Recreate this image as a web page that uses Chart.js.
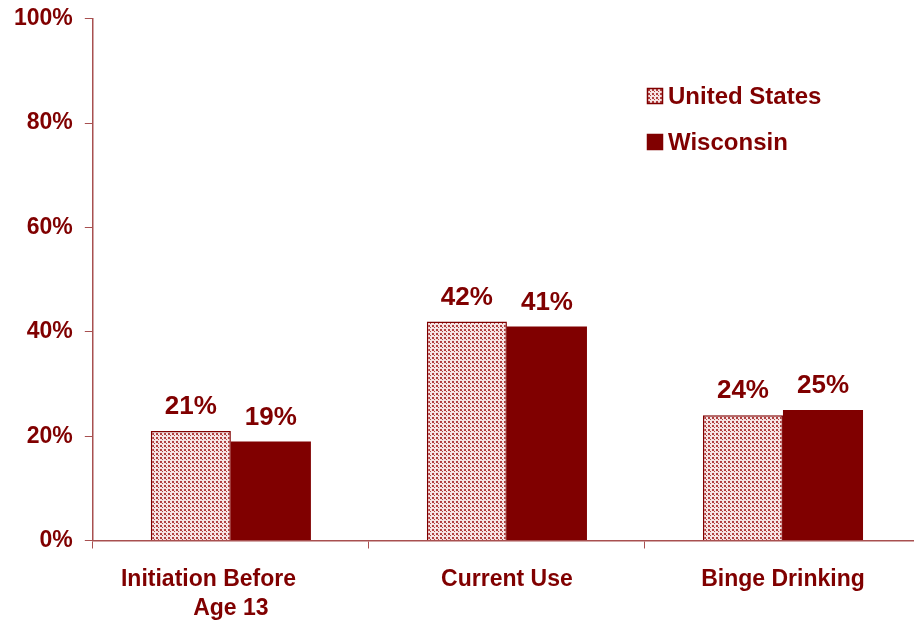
<!DOCTYPE html>
<html>
<head>
<meta charset="utf-8">
<script src="https://cdn.jsdelivr.net/npm/chart.js@4.4.1/dist/chart.umd.min.js"></script>
<style>
  html, body { margin: 0; padding: 0; background: #fff; overflow: hidden; }
  #wrap { position: relative; width: 921px; height: 649px; margin-top: -7px; }
</style>
</head>
<body>
<div id="wrap"><canvas id="chart"></canvas></div>
<script>
// ---- DATA ----
const categories = [['Initiation Before       ', 'Age 13'], 'Current Use', 'Binge Drinking'];
const seriesNames = ['United States', 'Wisconsin'];
const usValues = [21, 42, 24];
const wiValues = [19, 41, 25];
const yTicks = [0, 20, 40, 60, 80, 100];

const MAROON = '#800000';
const AXIS = '#a85050';
const FONT = "Arial, 'Liberation Sans', sans-serif";

// dotted fill used for the United States bars
function makeDots() {
    const c = document.createElement('canvas');
    c.width = 4; c.height = 4;
    const g = c.getContext('2d');
    g.fillStyle = '#f6e4e4';
    g.fillRect(0, 0, 4, 4);
    g.fillStyle = '#b04040';
    g.fillRect(0, 0, 2, 2);
    g.fillRect(2, 2, 1, 1);
    return g.createPattern(c, 'repeat');
}
const dots = makeDots();

// value labels above each bar
const valueLabels = {
    id: 'valueLabels',
    afterDatasetsDraw(chart) {
        const ctx = chart.ctx;
        ctx.save();
        ctx.font = 'bold 26px ' + FONT;
        ctx.fillStyle = MAROON;
        ctx.textAlign = 'center';
        ctx.textBaseline = 'bottom';
        chart.data.datasets.forEach((ds, i) => {
            chart.getDatasetMeta(i).data.forEach((bar, j) => {
                ctx.fillText(ds.data[j] + '%', bar.x, bar.y - 11);
            });
        });
        ctx.restore();
    }
};

// legend drawn inside the plot, upper right
const innerLegend = {
    id: 'innerLegend',
    afterDraw(chart) {
        const ctx = chart.ctx;
        const x = 647, ys = [103, 149];
        ctx.save();
        ctx.font = 'bold 24px ' + FONT;
        ctx.textBaseline = 'middle';
        chart.data.datasets.forEach((ds, i) => {
            ctx.fillStyle = ds.backgroundColor;
            ctx.fillRect(x, ys[i] - 8, 16, 16);
            ctx.strokeStyle = MAROON;
            ctx.lineWidth = 1.5;
            ctx.strokeRect(x + 0.5, ys[i] - 7.5, 15, 15);
            ctx.fillStyle = MAROON;
            ctx.fillText(ds.label, x + 21, ys[i] + 1);
        });
        ctx.restore();
    }
};

new Chart(document.getElementById('chart'), {
    type: 'bar',
    data: {
        labels: categories,
        datasets: [
            { label: seriesNames[0], data: usValues, backgroundColor: dots, borderColor: MAROON, borderWidth: 1.5 },
            { label: seriesNames[1], data: wiValues, backgroundColor: MAROON, borderWidth: 0 }
        ]
    },
    options: {
        responsive: true,
        maintainAspectRatio: false,
        animation: false,
        layout: { padding: { top: 5, right: 0, left: 2, bottom: 2 } },
        datasets: { bar: { categoryPercentage: 0.58, barPercentage: 1 } },
        plugins: {
            legend: { display: false },
            tooltip: { enabled: false }
        },
        scales: {
            x: {
                grid: { display: true, drawOnChartArea: false, offset: true, color: AXIS, tickLength: 8 },
                border: { color: AXIS, width: 1.5 },
                ticks: { color: MAROON, font: { family: FONT, size: 23, weight: 'bold', lineHeight: 1.25 }, padding: 17, maxRotation: 0 }
            },
            y: {
                min: 0,
                max: 100,
                afterBuildTicks: (axis) => { axis.ticks = yTicks.map(v => ({ value: v })); },
                grid: { display: true, drawOnChartArea: false, color: AXIS, tickLength: 8 },
                border: { color: AXIS, width: 1.5 },
                ticks: { color: MAROON, font: { family: FONT, size: 23, weight: 'bold' }, padding: 12, callback: v => v + '%' }
            }
        }
    },
    plugins: [valueLabels, innerLegend]
});
</script>
</body>
</html>
